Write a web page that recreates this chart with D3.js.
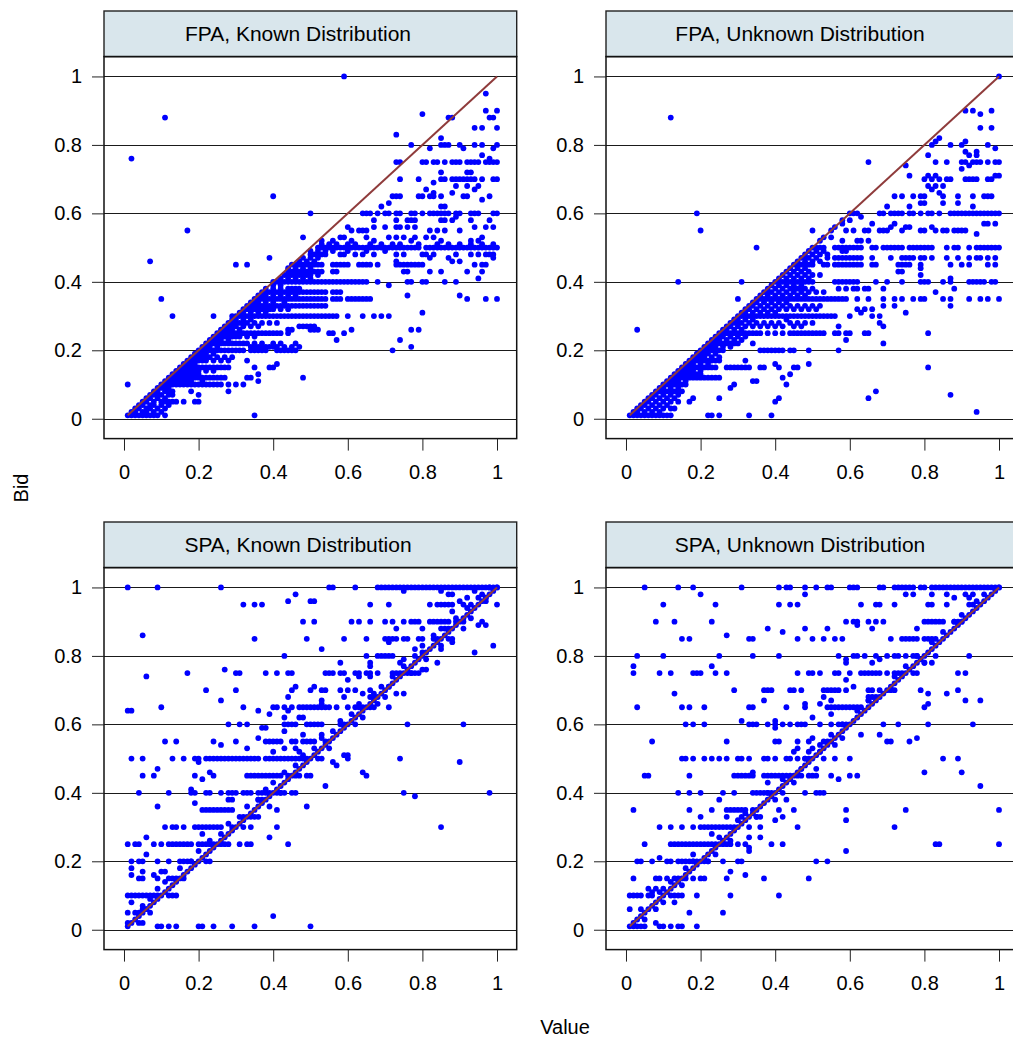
<!DOCTYPE html>
<html><head><meta charset="utf-8">
<script src="https://cdn.jsdelivr.net/npm/d3@7"></script>
<style>
body{margin:0;background:#fff}
svg{display:block}
text{font-family:"Liberation Sans",Arial,Helvetica,sans-serif;fill:#000}
</style>
</head><body>
<svg id="chart" width="1013" height="1037"></svg>
<script>
// ---------------- tick values / labels ----------------
const xTicks = [0, 0.2, 0.4, 0.6, 0.8, 1];
const xTickLabels = ["0", "0.2", "0.4", "0.6", "0.8", "1"];
const yTicks = [0, 0.2, 0.4, 0.6, 0.8, 1];
const yTickLabels = ["0", "0.2", "0.4", "0.6", "0.8", "1"];
const panelTitles = ["FPA, Known Distribution", "FPA, Unknown Distribution",
                     "SPA, Known Distribution", "SPA, Unknown Distribution"];
const xTitle = "Value";
const yTitle = "Bid";
const refLine = [[0.01, 0.01], [1, 1]];

// ---------------- data: [bid, [values at that bid]] ----------------
const fpaKnownRows = [
[0.01,[.01,.02,.03,.04,.05,.06,.07,.08,.09,.11,.35]],
[0.02,[.02,.03,.05,.06,.08,.10]],
[0.03,[.03,.04,.06,.07,.09,.11]],
[0.04,[.04,.05,.07,.08,.10,.12]],
[0.05,[.05,.06,.08,.10,.11,.12,.13,.14,.16,.19,.20]],
[0.06,[.06,.07,.09,.11]],
[0.07,[.07,.08,.09,.10,.12,.13,.20]],
[0.08,[.08,.09,.11,.12,.13,.18,.28]],
[0.09,[.09,.10,.11,.12]],
[0.10,[.01,.10,.11,.12,.13,.14,.15,.16,.17,.18,.19,.20,.21,.22,.23,.24,.25,.26,.28,.30,.32]],
[0.11,[.11,.12,.13,.14,.15,.16,.17,.18,.21,.36]],
[0.12,[.12,.13,.14,.15,.16,.17,.18,.19,.20,.21,.22,.23,.24,.25,.26,.27,.33,.34,.48]],
[0.13,[.13,.14,.15,.16,.17,.18,.19,.20,.36]],
[0.14,[.14,.15,.16,.17,.18,.19,.20,.22,.24]],
[0.15,[.15,.16,.17,.18,.19,.20,.21,.22,.23,.24,.25,.26,.27,.28,.35,.39,.40]],
[0.16,[.16,.17,.18,.19,.41]],
[0.17,[.17,.18,.19,.20,.21,.22,.24,.26,.28,.33]],
[0.18,[.18,.19,.20,.21,.22,.23,.25,.27,.29]],
[0.19,[.19,.20,.21,.22,.24]],
[0.20,[.20,.21,.22,.23,.24,.25,.26,.27,.28,.29,.30,.31,.32,.34,.35,.36,.37,.38,.41,.42,.43,.44,.45,.46,.72]],
[0.21,[.21,.22,.23,.25,.34,.35,.36,.37,.38,.39,.40,.41,.43,.45,.47,.77]],
[0.22,[.22,.23,.24,.25,.26,.27,.28,.29,.30,.31,.32,.33,.35,.37,.40,.42,.46]],
[0.23,[.23,.24,.25,.26,.28,.57,.74]],
[0.24,[.24,.25,.26,.27,.28,.29,.30,.31,.33,.35]],
[0.25,[.25,.26,.27,.28,.29,.30,.31,.32,.33,.34,.35,.36,.37,.38,.39,.40,.41,.42,.44,.55,.56,.59]],
[0.26,[.26,.27,.28,.29,.31,.44,.45,.50,.51,.52,.61,.77,.79]],
[0.27,[.27,.28,.29,.30,.32,.34,.36,.47,.48,.49,.50,.51]],
[0.28,[.28,.29,.30,.31,.32,.33,.35,.37,.39,.41]],
[0.29,[.29,.30,.32,.34]],
[0.30,[.13,.24,.29,.30,.31,.32,.33,.34,.35,.36,.37,.38,.39,.40,.41,.42,.43,.44,.45,.46,.47,.48,.49,.50,.51,.52,.53,.54,.55,.56,.57,.60,.64,.67,.69,.71]],
[0.31,[.31,.32,.34,.36,.38,.80]],
[0.32,[.32,.33,.34,.35,.36,.37,.38,.39,.40,.42,.44]],
[0.33,[.33,.34,.35,.36,.37,.38,.39,.40,.41,.42,.43,.44,.45,.46,.47,.48,.49,.50,.51,.52,.53,.54]],
[0.34,[.34,.35,.36,.38,.40,.43]],
[0.35,[.10,.35,.36,.37,.38,.39,.40,.41,.42,.43,.44,.45,.46,.47,.48,.49,.50,.51,.52,.53,.54,.56,.57,.58,.60,.61,.62,.63,.64,.65,.66,.92,.97,1.0]],
[0.36,[.36,.37,.38,.40,.42,.44,.46,.76,.90]],
[0.37,[.37,.38,.39,.40,.41,.42,.43,.44,.45,.46,.47,.48,.49,.50,.51,.52,.53,.54,.56,.57,.58]],
[0.38,[.38,.40,.42,.44,.45,.46,.47]],
[0.39,[.40,.42,.71]],
[0.40,[.40,.41,.42,.43,.44,.45,.46,.47,.48,.49,.50,.51,.52,.53,.54,.55,.56,.57,.58,.59,.60,.61,.62,.63,.64,.65,.68,.76,.77,.80,.81,.86,.89]],
[0.41,[.42,.44,.46,.48,.50,.95]],
[0.42,[.43,.44,.45,.46,.47,.48,.49,.50,.52]],
[0.43,[.44,.45,.46,.47,.48,.49,.50,.51,.52,.53,.56,.57,.75,.76,.82,.85,.92,.96]],
[0.44,[.44,.46,.48,.50]],
[0.45,[.30,.33,.45,.46,.47,.48,.49,.50,.51,.52,.53,.56,.57,.58,.59,.60,.63,.64,.65,.66,.68,.73,.74,.75,.76,.77,.78,.79,.80,.94,.96,.97]],
[0.46,[.07,.47,.49,.51,.73,.88,.90]],
[0.47,[.39,.48,.50,.52,.82,.87,.99]],
[0.48,[.50,.51,.52,.53,.54,.58,.59,.62,.64,.67,.73,.75,.80,.81,.83,.89,.93,.95,.97,.98,.99]],
[0.49,[.50,.52,.54,.56,.60,.65,.70]],
[0.50,[.52,.53,.54,.55,.56,.57,.58,.59,.60,.61,.62,.63,.64,.65,.66,.67,.68,.69,.70,.71,.72,.73,.74,.75,.76,.77,.78,.79,.81,.82,.83,.84,.85,.86,.87,.88,.89,.90,.91,.92,.93,.94,.95,.96,.97,.98,.99,1.0]],
[0.51,[.53,.55,.57,.60,.62,.66,.69,.72,.74,.79,.84,.87,.90,.93,.96,.99]],
[0.52,[.53,.56,.61,.67,.77,.85,.93,.95]],
[0.53,[.48,.58,.59,.65,.71,.73,.75,.78,.81,.83,.96]],
[0.55,[.17,.61,.63,.64,.65,.82,.84,.86,.90]],
[0.56,[.60,.67,.70,.73,.74,.76,.78,.94,.97,.99]],
[0.58,[.67,.73,.76,.77,.78,.85,.86,.88,.93,.98]],
[0.59,[.89]],
[0.60,[.50,.64,.65,.66,.68,.70,.71,.73,.74,.77,.78,.80,.82,.83,.84,.85,.86,.87,.89,.90,.93,.94,.95,.99,1.0]],
[0.62,[.69,.85,.86]],
[0.63,[.71]],
[0.64,[.96]],
[0.65,[.40,.72,.73,.74,.79,.80,.82,.83,.85,.91,.92,.98]],
[0.66,[.83,.88]],
[0.67,[.81,.94]],
[0.68,[.89,.92,.95]],
[0.69,[.83]],
[0.70,[.74,.79,.85,.86,.88,.89,.90,.91,.92,.93,.94,.96,.99,1.0]],
[0.72,[.85,.92,.93]],
[0.75,[.73,.74,.80,.81,.83,.84,.86,.88,.89,.90,.92,.93,.94,.95,.97,.98,.99,1.0]],
[0.76,[.02,.98]],
[0.77,[.96]],
[0.79,[.82,.91,.99]],
[0.80,[.77,.85,.86,.87,.90,.94,.96,1.0]],
[0.82,[.85]],
[0.83,[.73]],
[0.85,[.94,.96,1.0]],
[0.88,[.11,.87,.88,.98,.99]],
[0.89,[.80]],
[0.90,[.97,1.0]],
[0.95,[.97]],
[1.00,[.59]]
];

const fpaUnknownRows = [
[0.01,[.01,.02,.03,.04,.05,.06,.07,.08,.09,.10,.11,.12,.22,.23,.25,.33,.39]],
[0.02,[.02,.03,.05,.07,.09,.94]],
[0.03,[.03,.04,.06,.08,.10,.12,.13]],
[0.04,[.04,.05,.07,.09,.11]],
[0.05,[.05,.06,.08,.10,.12,.14,.17,.40]],
[0.06,[.06,.07,.09,.11,.13,.18,.25,.41,.65]],
[0.07,[.07,.08,.10,.12,.14,.87]],
[0.08,[.08,.09,.10,.11,.12,.13,.14,.15,.67]],
[0.09,[.09,.10,.12,.14,.28]],
[0.10,[.10,.11,.12,.13,.14,.15,.16,.29,.43]],
[0.11,[.11,.12,.13,.14,.16,.34,.35]],
[0.12,[.12,.13,.14,.15,.16,.17,.18,.19,.20,.21,.22,.23,.24,.25,.42]],
[0.13,[.13,.14,.15,.16,.17,.18,.19,.20,.44]],
[0.14,[.14,.15,.16,.17,.18,.20]],
[0.15,[.15,.16,.17,.18,.19,.20,.21,.22,.23,.24,.27,.28,.29,.30,.31,.32,.33,.36,.37,.41,.45,.46,.81]],
[0.16,[.16,.17,.18,.20,.22,.40,.49]],
[0.17,[.17,.18,.19,.20,.21,.22,.23,.24,.25,.32]],
[0.18,[.18,.19,.20,.21,.23,.25]],
[0.19,[.19,.20,.21,.22,.24]],
[0.20,[.20,.21,.22,.23,.24,.25,.26,.36,.37,.38,.39,.40,.41,.42,.44,.45,.49,.57]],
[0.21,[.21,.22,.23,.24,.26,.28]],
[0.22,[.22,.23,.24,.25,.26,.27,.28,.29,.30,.34,.69]],
[0.23,[.23,.24,.25,.27,.29,.31,.59]],
[0.24,[.24,.25,.26,.28,.30,.32]],
[0.25,[.25,.26,.27,.28,.29,.30,.31,.32,.33,.34,.35,.36,.38,.40,.42,.44,.45,.46,.47,.48,.49,.50,.51,.52,.53,.56,.57,.59,.60,.64,.65,.81]],
[0.26,[.03,.26,.27,.29,.31]],
[0.27,[.27,.28,.30,.32,.34,.36,.38,.40,.42,.45,.47,.57,.69]],
[0.28,[.28,.29,.30,.31,.33,.35,.37,.39,.41,.44,.46,.48,.50,.68]],
[0.29,[.29,.30,.32,.34,.43]],
[0.30,[.30,.31,.32,.33,.34,.35,.36,.37,.38,.39,.40,.41,.42,.43,.44,.45,.46,.47,.48,.49,.50,.51,.52,.53,.54,.55,.56,.60,.66,.68]],
[0.31,[.31,.32,.34,.36,.38,.40,.63,.75]],
[0.32,[.32,.33,.35,.37,.39,.41,.43,.45,.47,.49,.51,.62,.64,.66]],
[0.33,[.33,.34,.36,.38,.40,.42,.44,.46,.48,.50,.52,.69,.72,.87]],
[0.34,[.34,.35,.37,.39,.41,.43]],
[0.35,[.30,.35,.36,.37,.38,.39,.40,.41,.42,.43,.44,.45,.46,.47,.48,.49,.50,.51,.52,.53,.54,.55,.56,.57,.58,.59,.62,.65,.69,.72,.74,.77,.79,.80,.85,.87,.92,.95,.97,1.0]],
[0.36,[.36,.38,.40,.42,.44,.46,.48]],
[0.37,[.37,.38,.39,.41,.43,.45,.47,.49,.51,.53,.83]],
[0.38,[.38,.40,.42,.44,.45,.46,.47,.48,.50,.57,.59,.61,.62,.64,.65,.69,.88]],
[0.39,[.39,.41,.43,.45,.47]],
[0.40,[.14,.31,.40,.41,.42,.43,.44,.45,.46,.47,.48,.49,.50,.56,.57,.58,.59,.60,.61,.62,.67,.70,.74,.79,.80,.81,.85,.87,.92,.93,.94,.95,.96,.98,.99]],
[0.41,[.41,.43,.45,.47,.49,.87]],
[0.42,[.42,.44,.46,.48,.50,.52,.79]],
[0.43,[.43,.45,.47,.49,.73,.74]],
[0.44,[.44,.46,.48,.79]],
[0.45,[.45,.46,.47,.48,.49,.50,.53,.54,.56,.57,.58,.59,.60,.61,.62,.63,.66,.67,.73,.74,.75,.76,.79,.87,.90,.92,.97,.99]],
[0.46,[.46,.48,.50,.52]],
[0.47,[.47,.48,.49,.51,.54,.56,.57,.58,.59,.60,.61,.62,.63,.66,.71,.74,.75,.76,.77,.79,.80,.82,.86,.89,.92,.94,.95,.97,.99]],
[0.48,[.48,.50,.52,.54]],
[0.49,[.49,.51,.53,.58,.59]],
[0.50,[.35,.50,.51,.52,.53,.56,.57,.58,.59,.60,.61,.62,.63,.66,.67,.69,.70,.71,.72,.73,.74,.76,.77,.78,.79,.80,.81,.82,.86,.88,.89,.92,.94,.95,.96,.97,.98,.99,1.0]],
[0.52,[.52,.58,.62,.63,.65]],
[0.53,[.53,.55]],
[0.54,[.94]],
[0.55,[.20,.50,.55,.59,.61,.64,.65,.68,.69,.70,.74,.79,.80,.83,.85,.86,.88,.89,.90,.91]],
[0.56,[.56,.71,.75,.76,.82]],
[0.57,[.58,.66,.72,.96,.97,.99]],
[0.58,[.58,.60]],
[0.59,[.63]],
[0.60,[.19,.60,.61,.62,.68,.69,.71,.72,.73,.74,.76,.77,.79,.81,.82,.84,.87,.88,.89,.90,.91,.92,.93,.94,.95,.96,.97,.98,.99,1.0]],
[0.62,[.70,.76,.93]],
[0.63,[.79,.80,.85,.89]],
[0.65,[.72,.74,.77,.79,.80,.85,.89,.93,.96,.97,.98]],
[0.66,[.84]],
[0.67,[.82]],
[0.68,[.81,.83,.85]],
[0.70,[.80,.82,.84,.86,.87,.91,.92,.93,.94,.97,.98]],
[0.71,[.76,.81,.83,.99,1.0]],
[0.73,[.90]],
[0.74,[.75,.92]],
[0.75,[.65,.83,.86,.90,.91,.93,.94,.95,.97,.99,1.0]],
[0.77,[.81,.92,.94]],
[0.78,[.91,.94]],
[0.79,[.99]],
[0.80,[.82,.87,.90,.97]],
[0.81,[.83,.91]],
[0.82,[.84]],
[0.85,[.95,.98]],
[0.88,[.12]],
[0.89,[.95]],
[0.90,[.91,.93,.98]],
[1.00,[1.0]]
];

const spaKnownRows = [
[1.00,[.01,.09,.26,.55,.56,.62,.68,.69,.70,.71,.72,.73,.74,.75,.76,.77,.78,.79,.80,.81,.82,.83,.84,.85,.86,.87,.88,.89,.90,.91,.92,.93,.94,.95,.96,.97,.98,.99,1.0]],
[0.99,[.75,.85,.94]],
[0.98,[.46,.87,.88,.96]],
[0.97,[.92,.97]],
[0.96,[.44,.50,.51,.90,.97]],
[0.95,[.32,.35,.37,.66,.71,.82,.84,.85,.86,.87,.88,.91,.93,1.0]],
[0.93,[.88]],
[0.90,[.48,.51,.61,.63,.66,.70,.72,.75,.77,.78,.79,.82,.83,.84,.85,.86,.87,.89,.91,.96]],
[0.89,[.95,.97]],
[0.88,[.73,.80,.85,.87,.91]],
[0.86,[.05]],
[0.85,[.35,.49,.59,.65,.70,.71,.72,.73,.75,.76,.79,.80,.83,.84,.87,.88]],
[0.84,[.71,.88]],
[0.83,[.99]],
[0.82,[.53,.78,.85]],
[0.81,[.80,.94]],
[0.80,[.43,.65,.68,.69,.70,.71,.72]],
[0.79,[.75,.81]],
[0.78,[.58,.66,.74,.84]],
[0.77,[.66]],
[0.76,[.27,.80,.81]],
[0.75,[.17,.30,.31,.38,.41,.44,.45,.54,.55,.56,.58,.59,.62,.63,.65,.66,.68,.72,.73,.74,.76,.77,.78,.79]],
[0.74,[.06,.63,.66]],
[0.73,[.60]],
[0.71,[.46,.51,.71]],
[0.70,[.22,.30,.45,.50,.53,.54,.58,.60,.62,.66]],
[0.69,[.64,.67,.73,.75]],
[0.68,[.44,.59,.67]],
[0.67,[.26,.53]],
[0.66,[.53,.68]],
[0.65,[.10,.32,.40,.41,.43,.45,.47,.48,.49,.50,.51,.52,.53,.54,.55,.57,.60,.62,.63,.64,.66,.67,.71]],
[0.64,[.01,.02,.36,.44]],
[0.63,[.39]],
[0.62,[.43,.47,.48]],
[0.60,[.28,.31,.33,.43,.44,.45,.46,.49,.50,.51,.52,.53,.58,.59,.62,.76,.91]],
[0.59,[.37,.38]],
[0.58,[.43]],
[0.57,[.48,.53]],
[0.56,[.36]],
[0.55,[.11,.14,.24,.30,.38,.39,.40,.41,.42,.45,.46,.48,.49,.50,.51,.54]],
[0.54,[.26]],
[0.53,[.33,.43,.46]],
[0.52,[.40,.47]],
[0.51,[.59,.60]],
[0.50,[.02,.05,.13,.16,.19,.20,.22,.23,.24,.25,.26,.27,.28,.29,.30,.31,.32,.33,.34,.35,.36,.38,.39,.40,.41,.42,.43,.44,.45,.46,.47,.48,.49,.52,.53,.60,.74]],
[0.49,[.20,.56,.90]],
[0.48,[.57]],
[0.47,[.09]],
[0.46,[.23,.64]],
[0.45,[.05,.08,.19,.24,.33,.34,.35,.36,.37,.38,.39,.40,.41,.42,.44,.46,.49,.50,.65]],
[0.44,[.21]],
[0.42,[.54]],
[0.41,[.18]],
[0.40,[.04,.12,.18,.19,.22,.23,.26,.28,.29,.30,.32,.33,.34,.36,.37,.38,.39,.41,.42,.43,.45,.46,.75,.98]],
[0.39,[.78]],
[0.38,[.28,.29,.36,.37]],
[0.37,[.19]],
[0.36,[.09,.39,.49]],
[0.35,[.21,.22,.23,.24,.25,.26,.27,.28,.29,.41]],
[0.33,[.32,.34,.36]],
[0.30,[.11,.13,.14,.16,.19,.20,.21,.22,.23,.24,.25,.26,.29,.32,.34,.41,.85]],
[0.28,[.21]],
[0.27,[.06,.39]],
[0.25,[.01,.03,.04,.08,.10,.12,.13,.14,.15,.16,.17,.18,.20,.21,.22,.23,.24,.26,.27,.28,.31,.33,.34,.44]],
[0.22,[.06]],
[0.20,[.02,.04,.05,.09,.12,.15,.16,.17,.18,.23]],
[0.18,[.02]],
[0.17,[.05,.10,.11]],
[0.16,[.02,.08]],
[0.15,[.04,.05,.09,.13,.14,.16]],
[0.14,[.11]],
[0.10,[.01,.02,.03,.04,.05,.06,.07,.08,.09,.12,.13,.14]],
[0.08,[.02]],
[0.06,[.05,.06]],
[0.05,[.01,.04,.07]],
[0.04,[.40]],
[0.02,[.01,.04,.05]],
[0.01,[.09,.10,.12,.14,.20,.21,.24,.29,.35,.50]]
];
// points on and right around the 45-degree line, [value, bid]
const spaKnownNearLine = [
[.01,.01],[.02,.02],[.03,.03],[.04,.04],[.05,.05],[.06,.06],[.07,.07],[.08,.08],[.09,.09],[.10,.10],
[.11,.11],[.12,.12],[.13,.13],[.14,.14],[.15,.15],[.16,.16],[.17,.17],[.18,.18],[.19,.19],[.20,.20],
[.21,.21],[.22,.22],[.23,.23],[.24,.24],[.25,.25],[.26,.26],[.27,.27],[.28,.28],[.29,.29],[.30,.30],
[.31,.31],[.32,.32],[.33,.33],[.34,.34],[.35,.35],[.36,.36],[.37,.37],[.38,.38],[.39,.39],[.40,.40],
[.41,.41],[.42,.42],[.43,.43],[.44,.44],[.45,.45],[.46,.46],[.47,.47],[.48,.48],[.49,.49],[.50,.50],
[.51,.51],[.52,.52],[.53,.53],[.54,.54],[.55,.55],[.56,.56],[.57,.57],[.58,.58],[.59,.59],[.60,.60],
[.61,.61],[.62,.62],[.63,.63],[.64,.64],[.65,.65],[.66,.66],[.67,.67],[.68,.68],[.69,.69],[.70,.70],
[.71,.71],[.72,.72],[.73,.73],[.74,.74],[.75,.75],[.76,.76],[.77,.77],[.78,.78],[.79,.79],[.80,.80],
[.81,.81],[.82,.82],[.83,.83],[.84,.84],[.85,.85],[.86,.86],[.87,.87],[.88,.88],[.89,.89],[.90,.90],
[.91,.91],[.92,.92],[.93,.93],[.94,.94],[.95,.95],[.96,.96],[.97,.97],[.98,.98],[.99,.99],[1.0,1.0],
[.03,.05],[.05,.07],[.07,.09],[.09,.12],[.12,.15],[.15,.18],[.18,.20],[.20,.23],[.23,.26],[.26,.28],
[.28,.31],[.31,.33],[.33,.36],[.36,.38],[.38,.41],[.40,.43],[.43,.46],[.46,.48],[.48,.51],[.51,.53],
[.53,.56],[.56,.58],[.58,.61],[.61,.63],[.63,.66],[.66,.68],[.69,.71],[.72,.74],[.75,.77],[.78,.80],
[.80,.83],[.83,.86],[.86,.88],[.89,.91],[.92,.94],[.95,.97],[.98,1.0],
[.22,.20],[.35,.33],[.42,.40],[.47,.45],[.55,.53],[.64,.62],[.70,.68],[.77,.75],[.85,.83],[.93,.91]
];

const spaUnknownRows = [
[1.00,[.05,.14,.18,.31,.41,.43,.44,.48,.51,.54,.55,.60,.61,.62,.68,.69,.72,.73,.74,.75,.76,.77,.79,.80,.82,.83,.84,.85,.86,.87,.88,.89,.90,.91,.92,.93,.94,.95,.96,.97,.98,.99,1.0]],
[0.98,[.20,.48,.75,.77,.82,.86,.91,.93]],
[0.97,[.88,.92]],
[0.96,[.94]],
[0.95,[.10,.24,.41,.44,.46,.63,.67,.68,.72,.81,.82,.86,.92]],
[0.90,[.08,.13,.23,.59,.61,.62,.65,.67,.69,.80,.81,.82,.83,.84,.85,.88,.89,.90]],
[0.89,[.62]],
[0.88,[.38,.48,.54,.66,.78]],
[0.87,[.42]],
[0.86,[.27]],
[0.85,[.15,.17,.33,.34,.46,.50,.53,.56,.58,.71,.74,.75,.76,.77,.78,.80,.81,.82,.83]],
[0.80,[.03,.10,.25,.34,.41,.57,.61,.62,.64,.67,.70,.72,.73,.75,.77,.78,.83,.92]],
[0.79,[.59,.68]],
[0.78,[.59,.66,.80,.82]],
[0.77,[.02,.23]],
[0.75,[.02,.09,.12,.18,.19,.20,.24,.27,.46,.49,.50,.52,.56,.57,.60,.63,.64,.65,.66,.67,.68,.70,.72,.73,.74,.77,.78,.89,.91]],
[0.73,[.59]],
[0.71,[.61]],
[0.70,[.29,.37,.38,.39,.44,.45,.47,.53,.54,.55,.56,.57,.59,.65,.66,.71,.72,.79,.89]],
[0.69,[.13,.81,.86]],
[0.68,[.53,.65,.66,.67]],
[0.67,[.37,.55,.65,.91,.95]],
[0.66,[.48,.52,.81]],
[0.65,[.03,.15,.17,.21,.33,.34,.43,.48,.54,.55,.56,.57,.58,.59,.60,.61,.62,.63,.80]],
[0.63,[.55]],
[0.62,[.50]],
[0.61,[.31,.40]],
[0.60,[.16,.18,.21,.33,.34,.35,.38,.40,.42,.44,.46,.47,.48,.52,.55,.57,.58,.59,.69,.73,.81,.93]],
[0.59,[.40]],
[0.57,[.63,.68]],
[0.56,[.50,.58,.78]],
[0.55,[.07,.27,.40,.41,.46,.49,.53,.54,.70,.71,.76]],
[0.54,[.56]],
[0.53,[.46,.50]],
[0.52,[.45,.49,.52]],
[0.50,[.15,.16,.18,.21,.23,.25,.27,.30,.31,.33,.37,.38,.40,.43,.44,.46,.48,.49,.53,.56,.60,.85,.89]],
[0.47,[.47,.51]],
[0.46,[.34,.80,.90]],
[0.45,[.05,.06,.17,.29,.30,.31,.32,.33,.34,.37,.38,.39,.40,.41,.42,.43,.44,.46,.47,.49,.50,.51,.55,.60,.62]],
[0.44,[.57]],
[0.43,[.38]],
[0.42,[.95]],
[0.40,[.14,.17,.20,.26,.29,.34,.35,.36,.37,.38,.39,.42,.48,.51,.52,.53]],
[0.38,[.25,.43]],
[0.35,[.02,.17,.23,.27,.28,.29,.30,.31,.32,.34,.41,.45,.59,.75,1.0]],
[0.33,[.20,.27,.31,.35,.36,.42]],
[0.32,[.40,.59]],
[0.30,[.09,.12,.15,.18,.20,.21,.22,.23,.24,.25,.26,.27,.28,.29,.33,.36,.46,.72]],
[0.28,[.23]],
[0.27,[.33,.36]],
[0.25,[.05,.12,.13,.14,.15,.16,.17,.18,.19,.20,.21,.22,.23,.24,.26,.27,.28,.30,.32,.39,.42,.83,.84,1.0]],
[0.24,[.33]],
[0.23,[.33,.59]],
[0.22,[.18]],
[0.21,[.09]],
[0.20,[.03,.04,.07,.11,.12,.14,.15,.16,.17,.18,.19,.21,.22,.26,.30,.31,.51,.54]],
[0.17,[.28]],
[0.16,[.32]],
[0.15,[.02,.08,.09,.11,.13,.14,.16,.18,.20,.21,.27,.37,.49]],
[0.12,[.06,.08,.10]],
[0.11,[.07,.09]],
[0.10,[.01,.02,.03,.04,.06,.07,.12,.13,.14,.15,.19,.28,.41]],
[0.08,[.13]],
[0.06,[.01]],
[0.05,[.17,.26]],
[0.02,[.08]],
[0.01,[.02,.03,.04,.05,.09,.10,.12,.14,.15,.19]]
];
const spaUnknownNearLine = [
[.01,.01],[.02,.02],[.03,.03],[.04,.04],[.05,.05],[.06,.06],[.07,.07],[.08,.08],[.09,.09],[.10,.10],
[.11,.11],[.12,.12],[.13,.13],[.14,.14],[.15,.15],[.16,.16],[.17,.17],[.18,.18],[.19,.19],[.20,.20],
[.21,.21],[.22,.22],[.23,.23],[.24,.24],[.25,.25],[.26,.26],[.27,.27],[.28,.28],[.29,.29],[.30,.30],
[.31,.31],[.32,.32],[.33,.33],[.34,.34],[.35,.35],[.36,.36],[.37,.37],[.38,.38],[.39,.39],[.40,.40],
[.41,.41],[.42,.42],[.43,.43],[.44,.44],[.45,.45],[.46,.46],[.47,.47],[.48,.48],[.49,.49],[.50,.50],
[.51,.51],[.52,.52],[.53,.53],[.54,.54],[.55,.55],[.56,.56],[.57,.57],[.58,.58],[.59,.59],[.60,.60],
[.61,.61],[.62,.62],[.63,.63],[.64,.64],[.65,.65],[.66,.66],[.67,.67],[.68,.68],[.69,.69],[.70,.70],
[.71,.71],[.72,.72],[.73,.73],[.74,.74],[.75,.75],[.76,.76],[.77,.77],[.78,.78],[.79,.79],[.80,.80],
[.81,.81],[.82,.82],[.83,.83],[.84,.84],[.85,.85],[.86,.86],[.87,.87],[.88,.88],[.89,.89],[.90,.90],
[.91,.91],[.92,.92],[.93,.93],[.94,.94],[.95,.95],[.96,.96],[.97,.97],[.98,.98],[.99,.99],[1.0,1.0],
[.05,.03],[.08,.06],[.10,.08],[.12,.14],[.15,.13],[.18,.20],[.22,.20],[.25,.27],[.28,.26],[.32,.34],
[.35,.33],[.38,.40],[.42,.44],[.45,.43],[.52,.54],[.55,.57],[.62,.64],[.68,.70],[.72,.74],[.78,.80],
[.82,.84],[.85,.87],[.88,.90],[.93,.95],[.96,.98],[.04,.06],[.16,.18],[.24,.22],[.30,.32],[.40,.38],
[.48,.50],[.58,.60],[.65,.67],[.75,.77],[.80,.78],[.90,.92]
];

// ---------------- layout ----------------
const svg = d3.select("#chart");
const W = 412.7, stripH = 45.6, plotH = 382;
const panelPos = [{x:104, y:11}, {x:606, y:11}, {x:104, y:522}, {x:606, y:522}];

function rowsToPoints(rows){
  const out = [];
  rows.forEach(([b, vs]) => vs.forEach(v => out.push([v, b])));
  return out;
}
const panelData = [
  rowsToPoints(fpaKnownRows),
  rowsToPoints(fpaUnknownRows),
  rowsToPoints(spaKnownRows).concat(spaKnownNearLine),
  rowsToPoints(spaUnknownRows).concat(spaUnknownNearLine)
];

const defs = svg.append("defs");

panelPos.forEach((p, i) => {
  const top = p.y + stripH;
  const x = d3.scaleLinear().domain([-0.0536, 1.0528]).range([p.x, p.x + W]);
  const y = d3.scaleLinear().domain([-0.058, 1.058]).range([top + plotH, top]);

  defs.append("clipPath").attr("id", "clip" + i)
    .append("rect").attr("x", p.x).attr("y", top).attr("width", W).attr("height", plotH);

  // strip
  svg.append("rect").attr("x", p.x).attr("y", p.y).attr("width", W).attr("height", stripH)
    .attr("fill", "#d9e6ec").attr("stroke", "#222").attr("stroke-width", 1.4);
  svg.append("text").attr("x", p.x + 194).attr("y", p.y + stripH / 2).attr("dy", "0.36em")
    .attr("text-anchor", "middle").style("font-size", "21px").text(panelTitles[i]);

  // grid lines
  const g = svg.append("g").attr("clip-path", `url(#clip${i})`);
  g.selectAll("line.grid").data(yTicks).enter().append("line")
    .attr("x1", p.x).attr("x2", p.x + W)
    .attr("y1", d => Math.round(y(d)) + 0.5).attr("y2", d => Math.round(y(d)) + 0.5)
    .attr("stroke", "#1a1a1a").attr("stroke-width", 1);

  // points
  g.selectAll("circle").data(panelData[i]).enter().append("circle")
    .attr("cx", d => x(d[0])).attr("cy", d => y(d[1])).attr("r", 2.9)
    .attr("fill", "#0000ff");

  // 45 degree reference line
  g.append("path").datum(refLine)
    .attr("d", d3.line().x(d => x(d[0])).y(d => y(d[1])))
    .attr("stroke", "#8f3b3b").attr("stroke-width", 2).attr("fill", "none");

  // box
  svg.append("rect").attr("x", p.x).attr("y", top).attr("width", W).attr("height", plotH)
    .attr("fill", "none").attr("stroke", "#111").attr("stroke-width", 1.5);

  // axes
  const ax = svg.append("g").attr("transform", `translate(0,${top + plotH})`)
    .call(d3.axisBottom(x).tickValues(xTicks).tickFormat((d, k) => xTickLabels[k])
      .tickSize(12).tickPadding(14));
  const ay = svg.append("g").attr("transform", `translate(${p.x},0)`)
    .call(d3.axisLeft(y).tickValues(yTicks).tickFormat((d, k) => yTickLabels[k])
      .tickSize(12).tickPadding(10));
  [ax, ay].forEach(a => {
    a.select(".domain").remove();
    a.selectAll(".tick line").attr("stroke", "#222").attr("stroke-width", 1);
    a.selectAll(".tick text").style("font-size", "20px")
      .style("font-family", '"Liberation Sans",Arial,Helvetica,sans-serif').attr("fill", "#000");
  });
});

// axis titles
svg.append("text").attr("transform", "translate(21,488) rotate(-90)")
  .attr("text-anchor", "middle").attr("dy", "0.36em").style("font-size", "20px").text(yTitle);
svg.append("text").attr("x", 565).attr("y", 1027).attr("dy", "0.36em")
  .attr("text-anchor", "middle").style("font-size", "20px").text(xTitle);
</script>
</body></html>
